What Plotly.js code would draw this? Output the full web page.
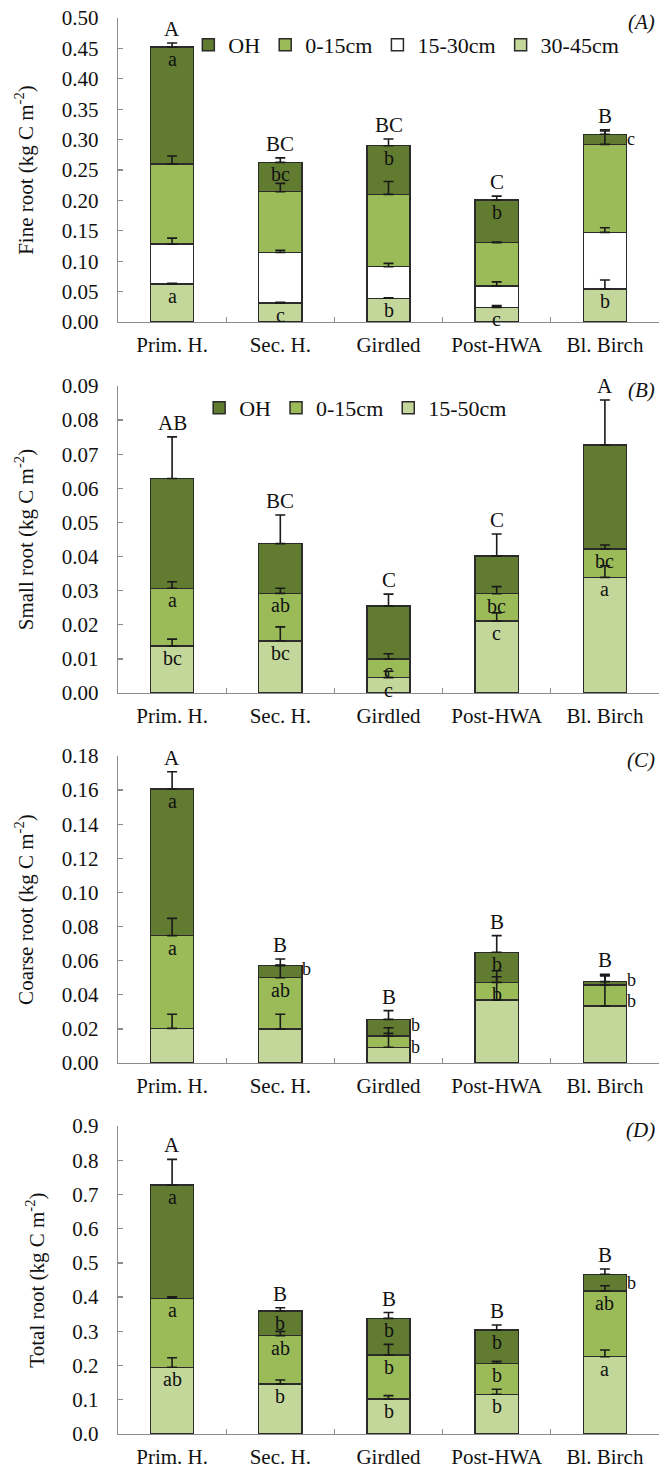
<!DOCTYPE html>
<html><head><meta charset="utf-8">
<script src="https://cdn.plot.ly/plotly-3.0.1.min.js"></script>
<style>html,body{margin:0;padding:0;background:#fff}#chart{width:659px;height:1473px}</style>
</head><body><div id="chart"></div>
<script>
const categories = ['Prim. H.', 'Sec. H.', 'Girdled', 'Post-HWA', 'Bl. Birch'];

// (A) Fine root, segments bottom -> top
const fine30_45 = [0.0625, 0.031, 0.039, 0.024, 0.0543];
const fine15_30 = [0.0655, 0.0836, 0.052, 0.0352, 0.0932];
const fine0_15  = [0.132, 0.0997, 0.119, 0.0713, 0.1447];
const fineOH    = [0.192, 0.0483, 0.080, 0.0702, 0.0165];
const fineErr30_45 = [0.001, 0.0015, 0.001, 0.003, 0.0147];
const fineErr15_30 = [0.010, 0.0035, 0.0055, 0.0068, 0.0075];
const fineErr0_15  = [0.013, 0.0137, 0.021, 0.001, 0.022];
const fineErrOH    = [0.007, 0.0074, 0.011, 0.0063, 0.0073];
const fineGroup    = ['A', 'BC', 'BC', 'C', 'B'];
const fineLetOH    = ['a', 'bc', 'b', 'b', ''];
const fineLetOHside = ['', '', '', '', 'c'];
const fineLet30_45 = ['a', 'c', 'b', 'c', 'b'];

// (B) Small root
const small15_50 = [0.0138, 0.0153, 0.0045, 0.0211, 0.0339];
const small0_15  = [0.0169, 0.0139, 0.0054, 0.0080, 0.0083];
const smallOH    = [0.0322, 0.0146, 0.0156, 0.0111, 0.0305];
const smallErr15_50 = [0.0020, 0.0041, 0.0019, 0.0024, 0.0034];
const smallErr0_15  = [0.0019, 0.0015, 0.0016, 0.0021, 0.0012];
const smallErrOH    = [0.0122, 0.0084, 0.0035, 0.0064, 0.0132];
const smallGroup    = ['AB', 'BC', 'C', 'C', 'A'];
const smallLet0_15  = ['a', 'ab', 'c', 'bc', 'bc'];
const smallLet15_50 = ['bc', 'bc', 'c', 'c', 'a'];

// (C) Coarse root
const coarse15_50 = [0.0203, 0.0198, 0.0092, 0.0369, 0.0334];
const coarse0_15  = [0.0544, 0.0302, 0.0066, 0.0104, 0.0122];
const coarseOH    = [0.0860, 0.0071, 0.0098, 0.0176, 0.0021];
const coarseErr15_50 = [0.0083, 0.0088, 0.0082, 0.0137, 0.0176];
const coarseErr0_15  = [0.0101, 0.0075, 0.0049, 0.0068, 0.0059];
const coarseErrOH    = [0.0101, 0.0039, 0.0051, 0.0098, 0.0043];
const coarseGroup    = ['A', 'B', 'B', 'B', 'B'];
const coarseLetOH    = ['a', '', '', 'b', ''];
const coarseLetOHside = ['', 'b', 'b', '', 'b'];
const coarseLet0_15  = ['a', 'ab', '', 'b', ''];
const coarseLet0_15side = ['', '', 'b', '', 'b'];

// (D) Total root
const total15_50 = [0.195, 0.146, 0.1023, 0.116, 0.2259];
const total0_15  = [0.2015, 0.1414, 0.1286, 0.0906, 0.192];
const totalOH    = [0.331, 0.072, 0.1071, 0.0973, 0.0488];
const totalErr15_50 = [0.028, 0.012, 0.0097, 0.0146, 0.0196];
const totalErr0_15  = [0.0045, 0.0126, 0.031, 0.0058, 0.0155];
const totalErrOH    = [0.075, 0.0096, 0.017, 0.0146, 0.0153];
const totalGroup    = ['A', 'B', 'B', 'B', 'B'];
const totalLetOH    = ['a', 'b', 'b', 'b', ''];
const totalLetOHside = ['', '', '', '', 'b'];
const totalLet0_15  = ['a', 'ab', 'b', 'b', 'ab'];
const totalLet15_50 = ['ab', 'b', 'b', 'b', 'a'];

const DARK = '#617b31', MID = '#9bbb59', LIGHT = '#c4d79b', WHITE = '#ffffff';
const FONT = '"Liberation Serif", "Times New Roman", Times, serif';

const panels = [
  {names: ['30-45cm', '15-30cm', '0-15cm', 'OH'], vals: [fine30_45, fine15_30, fine0_15, fineOH],
   errs: [fineErr30_45, fineErr15_30, fineErr0_15, fineErrOH], colors: [LIGHT, WHITE, MID, DARK],
   inside: [fineLet30_45, null, null, fineLetOH], side: [null, null, null, fineLetOHside], group: fineGroup,
   title: 'Fine root (kg C m<sup>-2</sup>)', range: [0, 0.5], dtick: 0.05, fmt: '.2f', legend: 'legend', tag: '(A)',
   domain: [0.7853, 1.0]},
  {names: ['15-50cm', '0-15cm', 'OH'], vals: [small15_50, small0_15, smallOH],
   errs: [smallErr15_50, smallErr0_15, smallErrOH], colors: [LIGHT, MID, DARK],
   inside: [smallLet15_50, smallLet0_15, null], side: [null, null, null], group: smallGroup,
   title: 'Small root (kg C m<sup>-2</sup>)', range: [0, 0.09], dtick: 0.01, fmt: '.2f', legend: 'legend2', tag: '(B)',
   domain: [0.5233, 0.7401]},
  {names: ['15-50cm', '0-15cm', 'OH'], vals: [coarse15_50, coarse0_15, coarseOH],
   errs: [coarseErr15_50, coarseErr0_15, coarseErrOH], colors: [LIGHT, MID, DARK],
   inside: [null, coarseLet0_15, coarseLetOH], side: [null, coarseLet0_15side, coarseLetOHside], group: coarseGroup,
   title: 'Coarse root (kg C m<sup>-2</sup>)', range: [0, 0.18], dtick: 0.02, fmt: '.2f', legend: null, tag: '(C)',
   domain: [0.2620, 0.4788]},
  {names: ['15-50cm', '0-15cm', 'OH'], vals: [total15_50, total0_15, totalOH],
   errs: [totalErr15_50, totalErr0_15, totalErrOH], colors: [LIGHT, MID, DARK],
   inside: [totalLet15_50, totalLet0_15, totalLetOH], side: [null, null, totalLetOHside], group: totalGroup,
   title: 'Total root (kg C m<sup>-2</sup>)', range: [0, 0.9], dtick: 0.1, fmt: '.1f', legend: null, tag: '(D)',
   domain: [0, 0.2175]}
];

const traces = [];
const annotations = [];
const layout = {
  width: 659, height: 1473,
  margin: {l: 118, r: 0, t: 18, b: 39},
  paper_bgcolor: '#fff', plot_bgcolor: '#fff',
  barmode: 'stack', bargap: 0.6,
  font: {family: FONT, size: 21, color: '#111'},
  showlegend: true,
  legend: {orientation: 'h', x: 0.13, xanchor: 'left', y: 0.981, yanchor: 'middle', traceorder: 'reversed',
           font: {family: FONT, size: 22, color: '#111'}, bgcolor: 'rgba(0,0,0,0)', itemwidth: 30},
  legend2: {orientation: 'h', x: 0.15, xanchor: 'left', y: 0.7246, yanchor: 'middle', traceorder: 'reversed',
           font: {family: FONT, size: 22, color: '#111'}, bgcolor: 'rgba(0,0,0,0)', itemwidth: 30},
  annotations: annotations
};

panels.forEach((p, k) => {
  const xa = k === 0 ? 'x' : 'x' + (k + 1);
  const ya = k === 0 ? 'y' : 'y' + (k + 1);
  const xkey = k === 0 ? 'xaxis' : 'xaxis' + (k + 1);
  const ykey = k === 0 ? 'yaxis' : 'yaxis' + (k + 1);
  layout[xkey] = {
    domain: [0, 1], anchor: ya, type: 'category', range: [-0.5, 4.5],
    showline: true, linecolor: '#8c8c8c', linewidth: 1.3,
    ticks: 'inside', tickson: 'boundaries', ticklen: 5, tickcolor: '#8c8c8c', tickwidth: 1.3,
    showgrid: false, zeroline: false, ticklabelstandoff: 3,
    tickfont: {family: FONT, size: 21, color: '#111'}
  };
  layout[ykey] = {
    domain: p.domain, anchor: xa, range: p.range, dtick: p.dtick, tick0: 0, tickformat: p.fmt,
    showline: true, linecolor: '#8c8c8c', linewidth: 1.3,
    ticks: 'inside', ticklen: 5, tickcolor: '#8c8c8c', tickwidth: 1.3,
    showgrid: false, zeroline: false, ticklabelstandoff: 14,
    tickfont: {family: FONT, size: 21, color: '#111'},
    title: {text: p.title, font: {family: FONT, size: 21, color: '#111'}, standoff: 22}
  };
  const cumBottom = [];
  const cumTop = [];
  let running = categories.map(() => 0);
  p.vals.forEach((v, s) => {
    cumBottom.push(running.slice());
    running = running.map((r, i) => r + v[i]);
    cumTop.push(running.slice());
    const tr = {
      type: 'bar', x: categories, y: v, name: p.names[s], xaxis: xa, yaxis: ya,
      width: 0.4,
      marker: {color: p.colors[s], line: {color: '#2b2b2b', width: 1.5}},
      showlegend: !!p.legend, hoverinfo: 'y+name'
    };
    if (p.legend) tr.legend = p.legend;
    traces.push(tr);
  });
  p.errs.forEach((e, s) => {
    traces.push({
      type: 'scatter', mode: 'markers', x: categories, y: cumTop[s], xaxis: xa, yaxis: ya,
      marker: {size: 1, opacity: 0}, showlegend: false, hoverinfo: 'skip', cliponaxis: false,
      error_y: {type: 'data', array: e, arrayminus: e.map(() => 0), symmetric: false,
                color: '#1a1a1a', thickness: 1.6, width: 5}
    });
  });
  p.inside.forEach((letters, s) => {
    if (!letters) return;
    letters.forEach((t, i) => {
      if (!t) return;
      annotations.push({xref: xa, yref: ya, x: categories[i], y: cumTop[s][i], text: t, showarrow: false,
        yanchor: 'top', yshift: 0, borderpad: 0, font: {family: FONT, size: 20, color: '#111'}});
    });
  });
  p.side.forEach((letters, s) => {
    if (!letters) return;
    const nSeg = p.vals.length;
    letters.forEach((t, i) => {
      if (!t) return;
      const mid = (cumBottom[s][i] + cumTop[s][i]) / 2;
      let ys = 0;
      if (k === 2) ys = (s === nSeg - 1) ? 3 : -5;
      annotations.push({xref: xa, yref: ya, x: categories[i], y: mid, text: t, showarrow: false,
        xanchor: 'left', xshift: 21, yanchor: 'middle', yshift: ys,
        borderpad: 0, font: {family: FONT, size: 18, color: '#111'}});
    });
  });
  const last = p.vals.length - 1;
  p.group.forEach((t, i) => {
    annotations.push({xref: xa, yref: ya, x: categories[i], y: cumTop[last][i] + p.errs[last][i], text: t,
      showarrow: false, yanchor: 'bottom', yshift: 0, font: {family: FONT, size: 21, color: '#111'}});
  });
  annotations.push({xref: xa + ' domain', yref: ya + ' domain', x: 1, y: 1, text: '<i>' + p.tag + '</i>',
    showarrow: false, xanchor: 'right', yanchor: 'middle', xshift: -2, yshift: -4,
    font: {family: FONT, size: 21, color: '#111'}});
});

Plotly.newPlot('chart', traces, layout, {staticPlot: true});
</script></body></html>
